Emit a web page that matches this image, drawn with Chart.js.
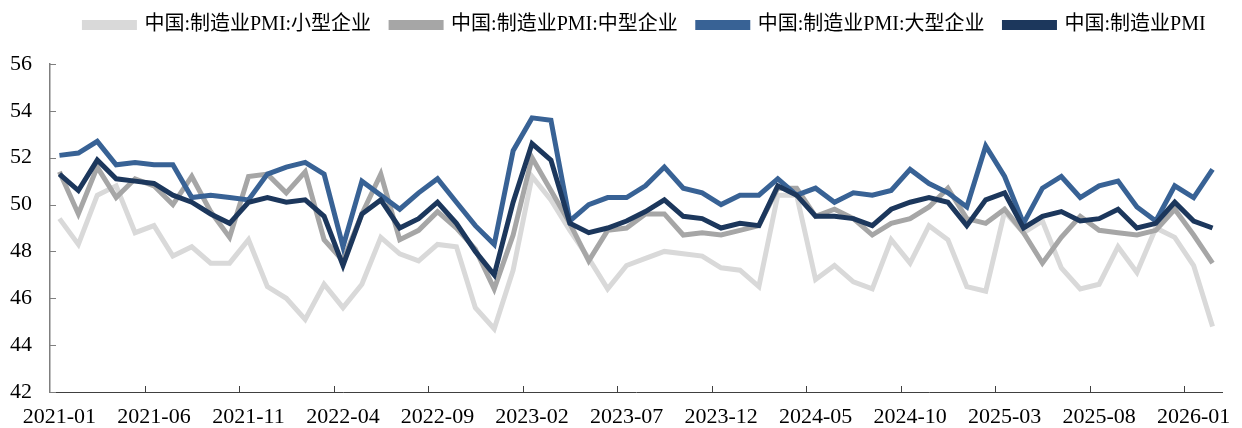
<!DOCTYPE html>
<html>
<head>
<meta charset="utf-8">
<script src="https://cdn.jsdelivr.net/npm/chart.js@4/dist/chart.umd.min.js"></script>
<style>
  html, body { margin: 0; padding: 0; background: #fff; }
  #wrap { width: 1242px; height: 428px; position: relative; }
</style>
</head>
<body>
<div id="wrap"><canvas id="pmiChart"></canvas></div>
<script>
// 月份：2021-01 ~ 2026-02
const months = [];
for (let y = 2021; y <= 2026; y++) {
  for (let m = 1; m <= 12; m++) {
    if (y === 2026 && m > 2) break;
    months.push(`${y}-${String(m).padStart(2, '0')}`);
  }
}

const seriesNames = ['中国:制造业PMI:小型企业', '中国:制造业PMI:中型企业', '中国:制造业PMI:大型企业', '中国:制造业PMI'];

const pmiSmall = [
  49.4, 48.3, 50.4, 50.8, 48.8, 49.1, 47.8, 48.2, 47.5, 47.5, 48.5, 46.5,
  46.0, 45.1, 46.6, 45.6, 46.6, 48.6, 47.9, 47.6, 48.3, 48.2, 45.6, 44.7,
  47.2, 51.2, 50.2, 48.9, 47.7, 46.4, 47.4, 47.7, 48.0, 47.9, 47.8, 47.3,
  47.2, 46.5, 50.4, 50.4, 46.8, 47.4, 46.7, 46.4, 48.5, 47.5, 49.1, 48.5,
  46.5, 46.3, 49.7, 48.8, 49.3, 47.3, 46.4, 46.6, 48.2, 47.1, 49.0, 48.6,
  47.4, 44.8
];

const pmiMedium = [
  51.4, 49.6, 51.6, 50.3, 51.1, 50.8, 50.0, 51.2, 49.7, 48.6, 51.2, 51.3,
  50.5, 51.4, 48.5, 47.6, 49.6, 51.3, 48.5, 48.9, 49.7, 49.0, 48.1, 46.4,
  48.7, 52.0, 50.6, 49.2, 47.6, 48.9, 49.0, 49.6, 49.6, 48.7, 48.8, 48.7,
  48.9, 49.1, 50.7, 50.7, 49.5, 49.8, 49.4, 48.7, 49.2, 49.4, 49.9, 50.7,
  49.4, 49.2, 49.8, 48.8, 47.5, 48.6, 49.5, 48.9, 48.8, 48.7, 48.9, 49.8,
  48.7, 47.5
];

const pmiLarge = [
  52.1, 52.2, 52.7, 51.7, 51.8, 51.7, 51.7, 50.3, 50.4, 50.3, 50.2, 51.3,
  51.6, 51.8, 51.3, 48.2, 51.0, 50.4, 49.8, 50.5, 51.1, 50.1, 49.1, 48.3,
  52.3, 53.7, 53.6, 49.3, 50.0, 50.3, 50.3, 50.8, 51.6, 50.7, 50.5, 50.0,
  50.4, 50.4, 51.1, 50.4, 50.7, 50.1, 50.5, 50.4, 50.6, 51.5, 50.9, 50.5,
  49.9, 52.5, 51.2, 49.2, 50.7, 51.2, 50.3, 50.8, 51.0, 49.9, 49.3, 50.8,
  50.3, 51.5
];

const pmiTotal = [
  51.3, 50.6, 51.9, 51.1, 51.0, 50.9, 50.4, 50.1, 49.6, 49.2, 50.1, 50.3,
  50.1, 50.2, 49.5, 47.4, 49.6, 50.2, 49.0, 49.4, 50.1, 49.2, 48.0, 47.0,
  50.1, 52.6, 51.9, 49.2, 48.8, 49.0, 49.3, 49.7, 50.2, 49.5, 49.4, 49.0,
  49.2, 49.1, 50.8, 50.4, 49.5, 49.5, 49.4, 49.1, 49.8, 50.1, 50.3, 50.1,
  49.1, 50.2, 50.5, 49.0, 49.5, 49.7, 49.3, 49.4, 49.8, 49.0, 49.2, 50.1,
  49.3, 49.0
];

const yTicks = [42, 44, 46, 48, 50, 52, 54, 56];

const colors = ['#d9d9d9', '#a6a6a6', '#386295', '#1c375c'];
const serif = '"Times New Roman", "Liberation Serif", "Noto Sans CJK SC", serif';

// 坐标轴内侧刻度线
const innerTicks = {
  id: 'innerTicks',
  afterDraw(chart) {
    const { ctx, chartArea, scales } = chart;
    ctx.save();
    ctx.lineWidth = 1;
    ctx.strokeStyle = '#7f7f7f';
    yTicks.forEach(v => {
      const y = Math.round(scales.y.getPixelForValue(v)) + 0.5;
      ctx.beginPath();
      ctx.moveTo(chartArea.left, y);
      ctx.lineTo(chartArea.left + 6, y);
      ctx.stroke();
    });
    ctx.strokeStyle = '#404040';
    for (let i = 5; i < months.length; i += 5) {
      const x = Math.round((scales.x.getPixelForValue(i - 1) + scales.x.getPixelForValue(i)) / 2) + 0.5;
      ctx.beginPath();
      ctx.moveTo(x, chartArea.bottom);
      ctx.lineTo(x, chartArea.bottom - 6);
      ctx.stroke();
    }
    ctx.restore();
  }
};

// 图例：下方留白，整体略向右
const legendSpace = {
  id: 'legendSpace',
  beforeInit(chart) {
    const legend = chart.legend;
    const fit = legend.fit;
    const draw = legend.draw;
    legend.fit = function () {
      fit.call(this);
      this.height = 69;
    };
    legend.draw = function () {
      this.ctx.save();
      this.ctx.translate(34, 0);
      draw.call(this);
      this.ctx.restore();
    };
  }
};

const allSeries = [pmiSmall, pmiMedium, pmiLarge, pmiTotal];

new Chart(document.getElementById('pmiChart'), {
  type: 'line',
  data: {
    labels: months,
    datasets: allSeries.map((data, i) => ({
      label: seriesNames[i],
      data,
      borderColor: colors[i],
      backgroundColor: colors[i],
      borderWidth: 5,
      pointRadius: 0,
      tension: 0,
      order: 4 - i,
    })),
  },
  options: {
    responsive: true,
    maintainAspectRatio: false,
    animation: false,
    layout: { padding: { left: 0, right: 20, top: -5, bottom: 0 } },
    plugins: {
      legend: {
        position: 'top',
        labels: {
          sort: (a, b) => a.datasetIndex - b.datasetIndex,
          boxWidth: 50,
          boxHeight: 5,
          padding: 20,
          color: '#000',
          font: { family: serif, size: 20 },
        },
      },
      tooltip: { enabled: false },
    },
    scales: {
      x: {
        offset: true,
        grid: { display: false, drawTicks: false, offset: true },
        border: { display: true, color: '#404040', width: 1 },
        afterFit: axis => { axis.height = 36; },
        ticks: {
          autoSkip: false,
          maxRotation: 0,
          minRotation: 0,
          padding: 12,
          color: '#000',
          font: { family: serif, size: 22 },
          callback: (v, i) => (i % 5 === 0 ? months[i] : ''),
        },
      },
      y: {
        min: 42,
        max: 56,
        grid: { display: false, drawTicks: false },
        border: { display: true, color: '#7f7f7f', width: 1.5 },
        afterFit: axis => { axis.width = 50; },
        afterBuildTicks: axis => { axis.ticks = yTicks.map(v => ({ value: v })); },
        ticks: {
          padding: 18,
          color: '#000',
          font: { family: serif, size: 22 },
        },
      },
    },
  },
  plugins: [innerTicks, legendSpace],
});
</script>
</body>
</html>
